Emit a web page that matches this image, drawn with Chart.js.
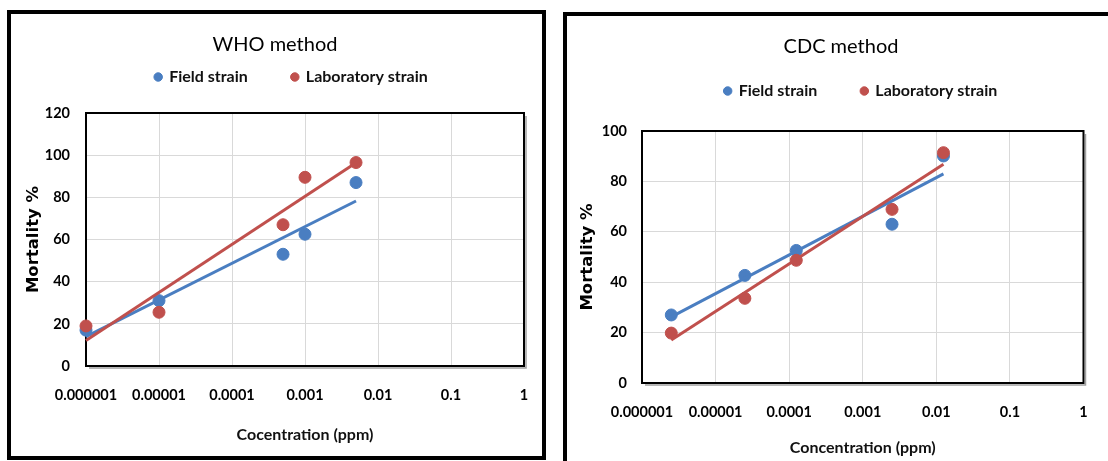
<!DOCTYPE html>
<html>
<head>
<meta charset="utf-8">
<script src="https://cdn.jsdelivr.net/npm/chart.js@4.4.1/dist/chart.umd.min.js"></script>
<style>
  html, body { margin: 0; padding: 0; background: #fff; overflow: hidden; }
  body { width: 1108px; height: 461px; position: relative; }
  .box { position: absolute; border: 4px solid #000; box-sizing: border-box; }
  canvas { position: absolute; top: 0; }
</style>
</head>
<body>
<div class="box" style="left:7px; top:10px; width:539px; height:450px;"></div>
<div class="box" style="left:563px; top:12px; width:600px; height:500px;"></div>
<canvas id="whoChart" width="554" height="461" style="left:0"></canvas>
<canvas id="cdcChart" width="554" height="461" style="left:554px"></canvas>
<script>
// axis ticks (log scale, ppm)
const xTickValues = [0.000001, 0.00001, 0.0001, 0.001, 0.01, 0.1, 1];
const xTickLabels = ['0.000001', '0.00001', '0.0001', '0.001', '0.01', '0.1', '1'];

// WHO method
const whoConc = [0.000001, 0.00001, 0.0005, 0.001, 0.005];
const whoField = [17, 31, 53, 62.5, 87];
const whoLab = [19, 25.5, 67, 89.5, 96.5];

// CDC method
const cdcConc = [0.0000025, 0.000025, 0.000125, 0.0025, 0.0125];
const cdcField = [27, 42.7, 52.6, 63, 90.1];
const cdcLab = [19.8, 33.6, 48.7, 68.9, 91.4];

const blue = 'rgb(74,126,193)';
const red = 'rgb(192,80,77)';

// log trendline (least squares on log10 x), drawn between first and last dose
function trendPoints(xs, ys) {
  const lx = xs.map(v => Math.log10(v));
  const n = lx.length;
  const mx = lx.reduce((a, b) => a + b, 0) / n;
  const my = ys.reduce((a, b) => a + b, 0) / n;
  let sxy = 0, sxx = 0;
  for (let i = 0; i < n; i++) {
    sxy += (lx[i] - mx) * (ys[i] - my);
    sxx += (lx[i] - mx) * (lx[i] - mx);
  }
  const slope = sxy / sxx;
  return [xs[0], xs[n - 1]].map(x => ({x: x, y: my + slope * (Math.log10(x) - mx)}));
}

const plotFrame = {
  id: 'plotFrame',
  afterLayout(chart, args, opts) {
    const lg = chart.legend;
    lg.left += opts.dx; lg.right += opts.dx;
    lg.top += opts.dy; lg.bottom += opts.dy;
  },
  beforeDatasetsDraw(chart) {
    const {ctx, chartArea: a} = chart;
    ctx.save();
    ctx.strokeStyle = '#a0a0a0';
    ctx.lineWidth = 1.5;
    ctx.beginPath();
    ctx.moveTo(a.right + 2, a.top + 3);
    ctx.lineTo(a.right + 2, a.bottom + 2);
    ctx.lineTo(a.left + 3, a.bottom + 2);
    ctx.stroke();
    ctx.strokeStyle = '#000';
    ctx.lineWidth = 2;
    ctx.strokeRect(a.left, a.top, a.right - a.left, a.bottom - a.top);
    ctx.restore();
  }
};

const tickFont = {family: 'Lato', weight: 'bold', size: 14.5};

function makeChart(id, title, xTitle, conc, field, lab, yMax, o) {
  const pts = ys => conc.map((x, i) => ({x: x, y: ys[i]}));
  return new Chart(document.getElementById(id), {
    type: 'scatter',
    data: {
      datasets: [
        {label: 'Field strain', data: pts(field), backgroundColor: blue, borderColor: blue,
          pointRadius: 6, order: 1, clip: false},
        {label: 'Laboratory strain', data: pts(lab), backgroundColor: red, borderColor: red,
          pointRadius: 6, order: 0, clip: false},
        {label: 'Field trend', data: trendPoints(conc, field), showLine: true, borderColor: blue,
          borderWidth: 3, pointRadius: 0, order: -1, clip: false},
        {label: 'Lab trend', data: trendPoints(conc, lab), showLine: true, borderColor: red,
          borderWidth: 3, pointRadius: 0, order: -2, clip: false}
      ]
    },
    options: {
      responsive: false,
      animation: false,
      events: [],
      layout: {padding: {left: o.pl, right: o.pr, top: 0, bottom: o.pb}},
      scales: {
        x: {
          type: 'logarithmic',
          min: 0.000001,
          max: 1,
          afterBuildTicks: s => { s.ticks = xTickValues.map(v => ({value: v})); },
          afterFit: s => { s.height = o.xh; },
          ticks: {autoSkip: false, maxRotation: 0, padding: 20.3, color: '#000', font: tickFont,
            callback: (v, i) => xTickLabels[i]},
          grid: {color: '#d9d9d9', drawTicks: false},
          border: {display: false},
          title: {display: true, text: xTitle, color: '#111',
            font: {family: 'Lato', weight: 'bold', size: 16},
            padding: {top: 0, bottom: o.xtp}}
        },
        y: {
          min: 0,
          max: yMax,
          afterFit: s => { s.width = o.yw; },
          ticks: {stepSize: 20, padding: o.ytp, color: '#000', font: tickFont},
          grid: {color: '#d9d9d9', drawTicks: false},
          border: {display: false},
          title: {display: true, text: 'Mortality %', color: '#000',
            font: {family: 'DejaVu Sans', weight: 'bold', size: 16.5},
            padding: {top: o.ytt, bottom: 0}}
        }
      },
      plugins: {
        title: {display: true, text: title, color: '#000',
          font: {family: 'Lato', size: 20, weight: 'normal'},
          padding: {top: o.tt, bottom: o.tb}},
        legend: {
          labels: {
            usePointStyle: true, pointStyle: 'circle', boxWidth: 6, boxHeight: 6, padding: 44,
            color: '#111', font: {family: 'Lato', weight: 'bold', size: 16},
            filter: item => item.datasetIndex < 2,
            sort: (a, b) => a.datasetIndex - b.datasetIndex
          }
        },
        tooltip: {enabled: false},
        plotFrame: {dx: o.dx, dy: o.dy}
      }
    },
    plugins: [plotFrame]
  });
}

makeChart('whoChart', 'WHO method', 'Cocentration (ppm)', whoConc, whoField, whoLab, 120,
  {pl: 26, pr: 30, pb: 10, yw: 60, ytp: 16, ytt: -1.9, xh: 85, xtp: 6.4, tt: 33, tb: -14, dx: 16.5, dy: -18});
makeChart('cdcChart', 'CDC method', 'Concentration (ppm)', cdcConc, cdcField, cdcLab, 100,
  {pl: 30, pr: 10, pb: 5, yw: 58, ytp: 15, ytt: -5.9, xh: 73, xtp: -1.6, tt: 35, tb: 2, dx: 20, dy: -22});
</script>
</body>
</html>
